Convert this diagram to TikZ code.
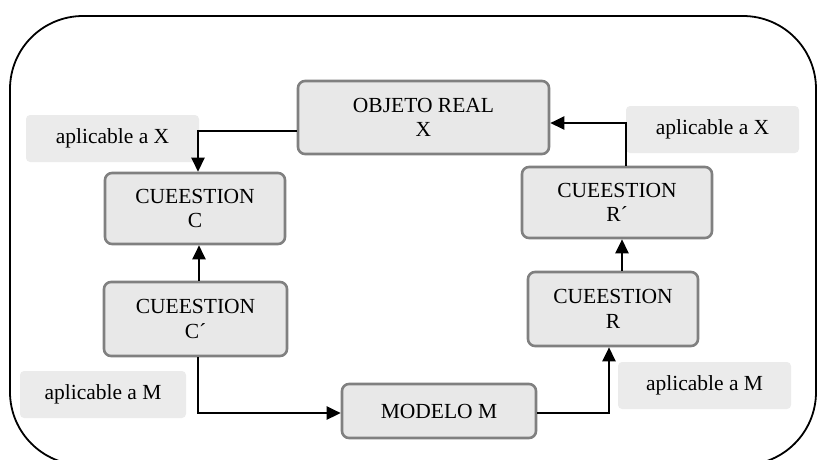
\documentclass[tikz,border=0pt]{standalone}
\usepackage{fontspec}
\setmainfont{Liberation Serif}
\usetikzlibrary{arrows.meta}
\definecolor{boxfill}{HTML}{E8E8E8}
\definecolor{boxline}{HTML}{808080}
\definecolor{tagfill}{HTML}{EBEBEB}
\begin{document}
\begin{tikzpicture}[x=1pt,y=-1pt,
  stage/.style={draw=boxline, line width=2.6pt, fill=boxfill, rounded corners=7pt,
    align=center, inner sep=0pt, font=\fontsize{21.5}{24.5}\selectfont},
  tag/.style={fill=tagfill, rounded corners=4pt, inner sep=0pt,
    font=\fontsize{21.5}{24.5}\selectfont},
  conn/.style={line width=2.5pt, -{Triangle[length=14pt,width=13pt]}}]
\useasboundingbox (0,0) rectangle (818,459);
% outer frame
\draw[line width=1.8pt, rounded corners=73pt] (10,16) rectangle (816,465);
% stage boxes
\node[stage, minimum width=251pt, minimum height=73pt] (obj) at (423.5,117.5) {OBJETO REAL\\X};
\node[stage, minimum width=180pt, minimum height=71pt] (cq) at (195,208.5) {CUEESTION\\C};
\node[stage, minimum width=183pt, minimum height=74pt] (cqp) at (195.5,319) {CUEESTION\\C´};
\node[stage, minimum width=190pt, minimum height=71pt] (rqp) at (617,202.5) {CUEESTION\\R´};
\node[stage, minimum width=170pt, minimum height=74pt] (rq) at (613,309) {CUEESTION\\R};
\node[stage, minimum width=194pt, minimum height=54pt] (mod) at (439,411) {MODELO M};
% side labels
\node[tag, minimum width=173pt, minimum height=47pt] (lx1) at (112.5,138.5) {aplicable a X};
\node[tag, minimum width=173pt, minimum height=47pt] (lx2) at (712.5,129.5) {aplicable a X};
\node[tag, minimum width=166pt, minimum height=47pt] (lm1) at (103,394.5) {aplicable a M};
\node[tag, minimum width=173pt, minimum height=47pt] (lm2) at (704.5,385.5) {aplicable a M};
% connectors
\draw[conn] (obj.west |- 0,131) -| (cq.north -| 198,0);
\draw[conn] (cqp.north -| 199,0) -- (cq.south -| 199,0);
\draw[conn] (cqp.south -| 198,0) |- (mod.west |- 0,413);
\draw[conn] (mod.east |- 0,413) -| (rq.south -| 609,0);
\draw[conn] (rq.north -| 622,0) -- (rqp.south -| 622,0);
\draw[conn] (rqp.north -| 626,0) |- (obj.east |- 0,123);
\end{tikzpicture}
\end{document}
